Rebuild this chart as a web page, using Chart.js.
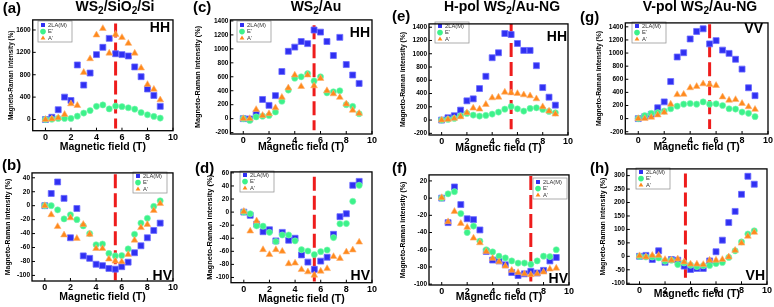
<!DOCTYPE html>
<html>
<head>
<meta charset="utf-8">
<script src="https://cdn.jsdelivr.net/npm/chart.js@4.4.1/dist/chart.umd.min.js"></script>
<style>
  body { margin: 0; background: #fff; }
  #stage { position: relative; width: 774px; height: 307px; overflow: hidden; font-family: "Liberation Sans", Arial, sans-serif; }
  #stage canvas { position: absolute; }
  .lettera { position: absolute; font-weight: bold; font-size: 15px; line-height: 1; white-space: nowrap; }
  .titolo { position: absolute; font-weight: bold; font-size: 14px; line-height: 1; white-space: nowrap; transform: translateX(-50%); }
  .titolo sub { font-size: 0.72em; vertical-align: -0.3em; line-height: 0; }
</style>
</head>
<body>
<div id="stage"></div>
<script>
/////////////////////////////// Dati ///////////////////////////////
const campo = [0, 0.5, 1, 1.5, 2, 2.5, 3, 3.5, 4, 4.5, 5, 5.5, 6, 6.5, 7, 7.5, 8, 8.5, 9];
const xTicks = [0, 2, 4, 6, 8, 10];

// (a) WS2/SiO2/Si HH
const la_a = [0, 40, 175, 400, 340, 975, 615, 830, 1160, 1290, 1450, 1175, 1160, 1135, 940, 765, 545, 430, 235];
const e_a = [0, 5, 20, 20, 20, 60, 115, 160, 235, 260, 190, 240, 230, 210, 185, 125, 85, 55, 25];
const a_a = [0, 10, 30, 90, 280, 250, 840, 1085, 1510, 1625, 1185, 1520, 1465, 1360, 1185, 920, 625, 540, 350];
// (b) WS2/SiO2/Si HV
const la_b = [0, 17.5, 34, 10.5, -46, -4, -72, -75.5, -84, -86, -90, -91, -87.5, -81, -67.5, -57.5, -46, -35.5, -25];
const e_b = [0, 0, -6, -19, -13, -20, -29, -40, -56, -55, -68.5, -72, -71.5, -62, -41, -25, -18, -1, 7];
const a_b = [0, -13, -30, -42, -17.5, -47, -27, -41, -61.5, -61.5, -76.5, -79.5, -80.5, -70, -49.5, -31.5, -27, -7, 3];
// (c) WS2/Au HH
const la_c = [0, -5, 70, 275, 190, 330, 675, 965, 1025, 1105, 1075, 1270, 1240, 1105, 905, 1165, 775, 625, 505];
const e_c = [0, -25, 25, 35, 45, 95, 250, 410, 580, 600, 645, 540, 600, 370, 385, 400, 200, 175, 70];
const a_c = [0, 0, 130, 45, 70, 155, 305, 440, 625, 460, 625, 470, 575, 400, 355, 305, 210, 120, 75];
// (d) WS2/Au HV
const la_d = [0, -5, -18.5, -30, -27, -44, -31, -43, -40, -65.5, -76.5, -87.5, -75, -69, -34, -7, -2.5, 41, 47];
const e_d = [0, -2.5, -21, -21.5, -31, -45, -35, -35, -44, -57.5, -59.5, -65, -60.5, -58, -39, -18, -17.5, 16.5, 41];
const a_d = [1, -29, -13.5, -57.5, -65, -57.5, -60, -79, -78, -88, -91.5, -96.5, -90.5, -86.5, -68, -71, -61, -58, -46];
// (e) H-pol WS2/Au-NG HH
const la_e = [0, 35, 65, 150, 290, 320, 475, 660, 940, 1015, 1305, 1290, 1155, 1050, 1050, 820, 490, 345, 225];
const e_e = [0, 10, 25, 65, 100, 75, 60, 70, 90, 120, 165, 205, 170, 135, 175, 185, 160, 130, 110];
const a_e = [0, 10, 25, 50, 110, 180, 165, 235, 335, 345, 420, 410, 400, 380, 365, 320, 200, 135, 90];
// (f) H-pol WS2/Au-NG HV
const la_f = [0, -28.5, 13, -7.5, -24, -25, -37, -62, -72, -73, -77.5, -86.5, -90, -88, -85, -87, -84, -73, -69];
const e_f = [0, 5, 7.5, -18, -40, -32.5, -50, -60, -62.5, -67.5, -69.5, -73, -75.5, -75.5, -77, -73, -67.5, -68, -60];
const a_f = [0.5, -27.5, -15.5, -29.5, -34, -46.5, -52, -62, -70, -74, -79, -84, -86.5, -88, -89, -88, -86, -82.5, -81.5];
// (g) V-pol WS2/Au-NG VV
const la_g = [0, 30, 65, 165, 255, 565, 940, 1005, 1215, 1330, 1370, 1140, 1190, 1045, 995, 905, 755, 470, 350];
const e_g = [0, 45, 80, 90, 115, 150, 190, 220, 230, 220, 255, 220, 225, 200, 150, 145, 100, 80, 30];
const a_g = [0, 0, 20, 55, 95, 220, 365, 370, 470, 490, 530, 520, 505, 330, 280, 290, 230, 180, 140];
// (h) V-pol WS2/Au-NG VH
const la_h = [0, 3.5, -12, 20.5, -22, -12, -14.5, -36.5, -49, -45, -45, -17, 17, 60, 125.5, 167, 230.5, 297.5, 268];
const e_h = [0, -2.5, -2.5, -6, -18, -14.5, -30.5, -24.5, -33, -38, -35, -34, -27, -23, -4, 20.5, 53.5, 83, 95];
const a_h = [2, -2.5, 3.5, 3.5, -12, -14.5, -10, -21, -29, -29, -30.5, -14.5, -14.5, -12, -2.5, 22, 49, 74.5, 89];

// pannelli in ordine a..h
const lettere = ["(a)", "(b)", "(c)", "(d)", "(e)", "(f)", "(g)", "(h)"];
const modi = ["HH", "HV", "HH", "HV", "HH", "HV", "VV", "VH"];
const serieLA = [la_a, la_b, la_c, la_d, la_e, la_f, la_g, la_h];
const serieE = [e_a, e_b, e_c, e_d, e_e, e_f, e_g, e_h];
const serieA = [a_a, a_b, a_c, a_d, a_e, a_f, a_g, a_h];
const nomiSerie = ["2LA(M)", "E'", "A'"];
const yMin = [-200, -108, -220, -108, -225, -101, -235, -104];
const yMax = [1780, 47, 1415, 61.5, 1450, 27, 1460, 325];
const yTicks = [
    [0, 400, 800, 1200, 1600],
    [-100, -80, -60, -40, -20, 0, 20, 40],
    [-200, 0, 200, 400, 600, 800, 1000, 1200, 1400],
    [-100, -80, -60, -40, -20, 0, 20, 40, 60],
    [-200, 0, 200, 400, 600, 800, 1000, 1200, 1400],
    [-100, -80, -60, -40, -20, 0, 20],
    [-200, 0, 200, 400, 600, 800, 1000, 1200, 1400],
    [-100, -50, 0, 50, 100, 150, 200, 250, 300]
];
// linea rossa tratteggiata
const dashX = [5.5, 5.5, 5.5, 5.5, 5.5, 7, 5.5, 3.6];
const dashTop = [1715, 45, 1340, 54, 1450, 25.8, 1440, 308];
const dashBottom = [-160, -107, -165, -106, -140, -97, -160, -80];

const titoli = [
    { x: 115, html: "WS<sub>2</sub>/SiO<sub>2</sub>/Si" },
    { x: 316, html: "WS<sub>2</sub>/Au" },
    { x: 502, html: "H-pol WS<sub>2</sub>/Au-NG" },
    { x: 700, html: "V-pol WS<sub>2</sub>/Au-NG" }
];

/////////////////////////////// Impaginazione (pixel della pagina) ///////////////////////////////
const geometria = [
    { L: 32.7, R: 174, T: 18, B: 130.7, ytx: 11, yts: 6.4, xty: 146.7, modo: [170, 32], leg: [38, 21], let: [2.7, -0.5] },
    { L: 32, R: 174, T: 171.7, B: 281, ytx: 8.3, yts: 6.9, xty: 297.5, modo: [172, 280], leg: [133, 172], let: [2, 157] },
    { L: 230.4, R: 372.7, T: 18.3, B: 134, ytx: 198.3, yts: 7.3, xty: 146.7, modo: [370, 37], leg: [237, 21], let: [193, -1] },
    { L: 231, R: 372.7, T: 170.7, B: 282.7, ytx: 210, yts: 7.5, xty: 299, modo: [370, 280], leg: [240, 171], let: [195, 159.5] },
    { L: 429, R: 569, T: 22.7, B: 135, ytx: 403, yts: 6.8, xty: 148, modo: [567, 40.5], leg: [435, 22], let: [392, 8] },
    { L: 429, R: 570, T: 173.3, B: 285, ytx: 403, yts: 6.9, xty: 297.5, modo: [568, 283], leg: [533, 178], let: [392, 159.5] },
    { L: 625.3, R: 768.7, T: 21, B: 134, ytx: 599.5, yts: 6.8, xty: 146.7, modo: [763, 33], leg: [632, 22], let: [580, 9] },
    { L: 626.8, R: 768, T: 167.3, B: 284.3, ytx: 603, yts: 7, xty: 294, modo: [765, 280], leg: [636, 168], let: [590, 159.5] }
];

const FONT = '"Liberation Sans", Arial, sans-serif';
const BLU = "#3030f2", BLU_B = "#6a6aff";
const VERDE = "#3cf28a", VERDE_B = "#7ff7b4";
const ARANCIO = "#ff8a1c", ARANCIO_B = "#ffb070";
const ROSSO = "#ee1c1c";

Chart.defaults.font.family = FONT;
Chart.defaults.color = "#000";

const stage = document.getElementById("stage");

/////////////////////////////// Plugin: cornice, legenda, etichetta ///////////////////////////////
const cornice = {
    id: "cornice",
    afterDatasetsDraw(chart, args, opts) {
        const { ctx, chartArea: a, scales } = chart;
        ctx.save();
        // tacche verso l'interno
        ctx.strokeStyle = "#000";
        ctx.lineWidth = 1;
        ctx.beginPath();
        scales.x.ticks.forEach(t => {
            const px = scales.x.getPixelForValue(t.value);
            ctx.moveTo(px, a.bottom);
            ctx.lineTo(px, a.bottom - 3);
        });
        scales.y.ticks.forEach(t => {
            const py = scales.y.getPixelForValue(t.value);
            ctx.moveTo(a.left, py);
            ctx.lineTo(a.left + 3, py);
        });
        ctx.stroke();

        // legenda
        const lx = opts.leg[0] - opts.ox, ly = opts.leg[1] - opts.oy;
        ctx.fillStyle = "#fff";
        ctx.fillRect(lx, ly, 34, 21);
        ctx.strokeStyle = "#9a9a9a";
        ctx.lineWidth = 0.8;
        ctx.strokeRect(lx, ly, 34, 21);
        const stili = ["rect", "circle", "triangle"];
        const colori = [BLU, VERDE, ARANCIO];
        ctx.font = "5.8px " + FONT;
        ctx.textBaseline = "middle";
        for (let k = 0; k < 3; k++) {
            const cy = ly + 4 + k * 6.6;
            ctx.fillStyle = colori[k];
            ctx.strokeStyle = colori[k];
            Chart.helpers.drawPoint(ctx, { pointStyle: stili[k], radius: 2.8, borderWidth: 0 }, lx + 5, cy);
            ctx.fillStyle = "#333";
            ctx.fillText(nomiSerie[k], lx + 10, cy);
        }

        // etichetta HH / HV ...
        ctx.fillStyle = "#000";
        ctx.font = "bold 14px " + FONT;
        ctx.textAlign = "right";
        ctx.textBaseline = "alphabetic";
        ctx.fillText(opts.modo, opts.pos[0] - opts.ox, opts.pos[1] - opts.oy);

        // cornice
        ctx.lineWidth = 1.3;
        ctx.strokeStyle = "#000";
        ctx.strokeRect(a.left, a.top, a.right - a.left, a.bottom - a.top);
        ctx.restore();
    }
};

/////////////////////////////// Costruzione dei pannelli ///////////////////////////////
const punti = function (valori) {
    return campo.map((x, k) => ({ x: x, y: valori[k] }));
};

const creaPannello = function (i) {
    const g = geometria[i];
    const ytLeft = g.ytx - (g.yts * 1.2) / 2;
    const xtBottom = g.xty + 6.3;
    const cl = Math.floor(ytLeft - 1);
    const ct = Math.floor(g.T - 4);
    const cr = Math.min(774, Math.ceil(g.R + 5));
    const cb = Math.ceil(xtBottom + 2);

    const canvas = document.createElement("canvas");
    canvas.width = cr - cl;
    canvas.height = cb - ct;
    canvas.style.left = cl + "px";
    canvas.style.top = ct + "px";
    stage.appendChild(canvas);

    const larghezzaY = g.L - ytLeft;
    const altezzaX = xtBottom - g.B;

    new Chart(canvas, {
        type: "scatter",
        data: {
            datasets: [
                { label: nomiSerie[0], data: punti(serieLA[i]), pointStyle: "rect", pointRadius: 4.2, backgroundColor: BLU, borderColor: BLU_B, borderWidth: 0.8, order: 3 },
                { label: nomiSerie[1], data: punti(serieE[i]), pointStyle: "circle", pointRadius: 3.1, backgroundColor: VERDE, borderColor: VERDE_B, borderWidth: 0.6, order: 2 },
                { label: nomiSerie[2], data: punti(serieA[i]), pointStyle: "triangle", pointRadius: 3.9, backgroundColor: ARANCIO, borderColor: ARANCIO_B, borderWidth: 0.6, order: 1 },
                {
                    type: "line",
                    data: [{ x: dashX[i], y: dashTop[i] }, { x: dashX[i], y: dashBottom[i] }],
                    borderColor: ROSSO, borderWidth: 3, borderDash: [14, 5], pointRadius: 0, order: 5
                }
            ]
        },
        options: {
            responsive: false,
            animation: false,
            events: [],
            layout: {
                autoPadding: false,
                padding: { left: ytLeft - cl, top: g.T - ct, right: cr - g.R, bottom: cb - xtBottom }
            },
            plugins: {
                legend: { display: false },
                tooltip: { enabled: false },
                cornice: { leg: g.leg, pos: g.modo, modo: modi[i], ox: cl, oy: ct }
            },
            scales: {
                x: {
                    type: "linear", min: -1, max: 10,
                    afterBuildTicks: s => { s.ticks = xTicks.map(v => ({ value: v })); },
                    afterFit: s => { s.height = altezzaX; },
                    grid: { display: false, drawTicks: false },
                    border: { display: false },
                    ticks: { autoSkip: false, maxRotation: 0, padding: 1, color: "#000", font: { size: 9, weight: "bold" }, callback: v => String(v) },
                    title: { display: true, text: "Magnetic field (T)", color: "#000", padding: 0, font: { size: 10.5, weight: "bold" } }
                },
                y: {
                    type: "linear", min: yMin[i], max: yMax[i],
                    afterBuildTicks: s => { s.ticks = yTicks[i].map(v => ({ value: v })); },
                    afterFit: s => { s.width = larghezzaY; },
                    grid: { display: false, drawTicks: false },
                    border: { display: false },
                    ticks: { autoSkip: false, padding: 2, color: "#000", font: { size: 6.5, weight: "bold" }, callback: v => String(v) },
                    title: { display: true, text: "Magneto-Raman intensity (%)", color: "#000", padding: 0, font: { size: g.yts, weight: "bold" } }
                }
            }
        },
        plugins: [cornice]
    });

    const let_ = document.createElement("div");
    let_.className = "lettera";
    let_.textContent = lettere[i];
    let_.style.left = g.let[0] + "px";
    let_.style.top = g.let[1] + "px";
    stage.appendChild(let_);
};

for (let i = 0; i < 8; i++) creaPannello(i);

titoli.forEach(t => {
    const d = document.createElement("div");
    d.className = "titolo";
    d.innerHTML = t.html;
    d.style.left = t.x + "px";
    d.style.top = "-1px";
    stage.appendChild(d);
});
</script>
</body>
</html>
